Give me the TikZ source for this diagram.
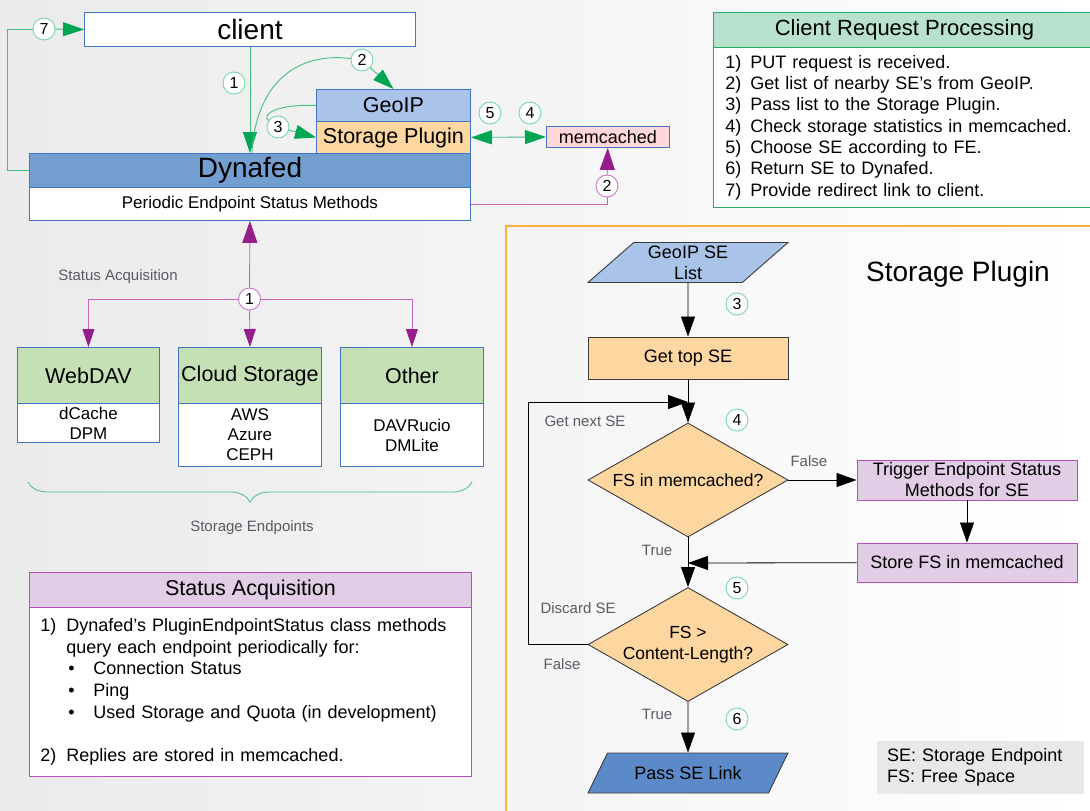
\documentclass[tikz,border=0pt]{standalone}
\usepackage{fontspec}
\setmainfont{Liberation Sans}
\usepackage{xcolor}
\usepackage{tikz}
\usetikzlibrary{arrows.meta, shapes.geometric, decorations.pathreplacing}
\definecolor{kaderblauw}{RGB}{68,114,196}
\definecolor{dynblauw}{RGB}{114,159,207}
\definecolor{geoblauw}{RGB}{170,196,233}
\definecolor{linkblauw}{RGB}{92,138,200}
\definecolor{oranjevak}{RGB}{253,214,160}
\definecolor{rozevak}{RGB}{255,215,215}
\definecolor{groenvak}{RGB}{197,224,180}
\definecolor{paarsvak}{RGB}{225,205,230}
\definecolor{paarsrand}{RGB}{180,80,180}
\definecolor{muntvak}{RGB}{184,226,206}
\definecolor{randgroen}{RGB}{40,170,100}
\definecolor{lijngroen}{RGB}{70,190,130}
\definecolor{pijlgroen}{RGB}{0,166,81}
\definecolor{cirkelgroen}{RGB}{120,215,170}
\definecolor{lijnpaars}{RGB}{200,100,190}
\definecolor{pijlpaars}{RGB}{150,30,140}
\definecolor{cirkelpaars}{RGB}{200,120,200}
\definecolor{oranjerand}{RGB}{250,175,60}
\definecolor{donkergrijs}{RGB}{60,60,60}
\definecolor{legendagrijs}{RGB}{232,232,232}
\definecolor{labelgrijs}{RGB}{90,90,100}
\newcommand{\fsz}[2]{\fontsize{#1}{#2}\selectfont}
\newcommand{\nrvak}[2]{\makebox[#1][l]{#2}}

\begin{document}
\begin{tikzpicture}[x=1pt, y=-1pt,
  vak/.style={draw=kaderblauw, line width=0.9pt, inner sep=0pt, anchor=north west, align=center},
  nummer/.style={circle, draw=cirkelgroen, fill=white, line width=0.9pt, minimum size=22pt, inner sep=0pt, font=\fsz{16}{16}},
  groenlijn/.style={draw=lijngroen, line width=0.9pt},
  groenpijl/.style={groenlijn, -{Triangle[length=21pt, width=14pt, color=pijlgroen]}},
  paarslijn/.style={draw=lijnpaars, line width=0.9pt},
  paarspijl/.style={paarslijn, -{Triangle[length=22pt, width=15pt, color=pijlpaars]}},
  paarsklein/.style={paarslijn, -{Triangle[length=18pt, width=12pt, color=pijlpaars]}},
  zwartpijl/.style={draw=black, line width=0.8pt, -{Triangle[length=20pt, width=14pt]}},
  stap/.style={draw=donkergrijs, line width=0.9pt, fill=oranjevak, minimum width=200, inner xsep=4pt, inner ysep=1pt, font=\fsz{18}{21}, align=center},
  keuze/.style={diamond, aspect=1.75, draw=donkergrijs, line width=0.9pt, fill=oranjevak, minimum width=200, minimum height=114, inner sep=0pt, font=\fsz{17.5}{21}, align=center},
  invoer/.style={trapezium, trapezium left angle=38, trapezium right angle=142, trapezium stretches body, minimum width=200, minimum height=40, inner sep=1pt, draw=donkergrijs, line width=0.9pt, font=\fsz{18}{21}, align=center},
  grijslabel/.style={text=labelgrijs, font=\fsz{15}{18}}
]
  \useasboundingbox (0,0) rectangle (1090,811);
  % achtergrond
  \shade[left color=black!8, right color=white] (0,0) rectangle (1090,811);

  % Client, Dynafed en plugin
  \node[vak, fill=white, minimum width=331, minimum height=34, font=\fsz{28}{30}] (client) at (84,12) {client};
  \node[vak, fill=dynblauw, minimum width=441, minimum height=34, font=\fsz{28}{30}] (dynafed) at (29,153) {Dynafed};
  \node[vak, fill=white, minimum width=441, minimum height=33, font=\fsz{17}{20}] (periodiek) at (29,187) {Periodic Endpoint Status Methods};
  \node[vak, fill=geoblauw, minimum width=154, minimum height=32, font=\fsz{21.5}{24}] (geoip) at (316,89) {GeoIP};
  \node[vak, fill=oranjevak, minimum width=154, minimum height=32, font=\fsz{21.5}{24}] (plugin) at (316,121) {Storage Plugin};
  \node[vak, fill=rozevak, minimum width=123, minimum height=21, font=\fsz{18}{20}] (memcached) at (546,126) {memcached};

  % Stappen
  \node[nummer] (n7) at (44,29) {7};
  \node[nummer] (n1) at (234,83) {1};
  \node[nummer] (n2) at (362,60) {2};
  \node[nummer] (n3) at (278,127) {3};
  \node[nummer] (n5) at (490,113) {5};
  \node[nummer] (n4) at (530,113) {4};
  \node[nummer, draw=cirkelpaars] (m2) at (607,186) {2};

  \draw[groenpijl] (client.south) -- (dynafed.north);
  \draw[groenlijn] (dynafed.west) -- ++(-22,0) |- (n7);
  \draw[groenpijl] (n7) -- (client.west);
  \draw[groenlijn] ([xshift=2pt]dynafed.north) .. controls (256,80) and (300,52) .. (n2);
  \draw[groenpijl] (n2) -- (geoip.north);
  \draw[groenlijn] (geoip.west) .. controls (272,104) and (262,116) .. (n3);
  \draw[groenpijl] (n3) -- (plugin.west);
  \draw[groenlijn, {Triangle[length=21pt, width=14pt, color=pijlgroen]}-{Triangle[length=21pt, width=14pt, color=pijlgroen]}] (plugin.east) -- (memcached.west);
  \draw[paarslijn] (periodiek.east) -| (m2);
  \draw[paarspijl] (m2) -- (memcached);

  % Eindpunten
  \node[vak, fill=groenvak, minimum width=142, minimum height=56, font=\fsz{21.5}{24}] (webdav) at (17,347) {WebDAV};
  \node[vak, fill=white, minimum width=142, minimum height=39, font=\fsz{17}{20}] (webdavlijst) at (17,403) {dCache\\DPM};
  \node[vak, fill=groenvak, minimum width=143, minimum height=56, font=\fsz{21.5}{24}] (cloud) at (178,347) {Cloud Storage};
  \node[vak, fill=white, minimum width=143, minimum height=63, font=\fsz{17}{20}] (cloudlijst) at (178,403) {AWS\\Azure\\CEPH};
  \node[vak, fill=groenvak, minimum width=143, minimum height=56, font=\fsz{21.5}{24}] (overig) at (340,347) {Other};
  \node[vak, fill=white, minimum width=143, minimum height=63, font=\fsz{17}{20}] (overiglijst) at (340,403) {DAVRucio\\DMLite};

  \node[nummer, draw=cirkelpaars] (s1) at (249.5,299) {1};
  \draw[paarspijl] (s1) -- (periodiek.south);
  \draw[paarsklein] (s1) -| (webdav.north);
  \draw[paarsklein] (s1) -- (cloud.north);
  \draw[paarsklein] (s1) -| (overig.north);
  \node[grijslabel] (statuslabel) at (118,277) {Status Acquisition};
  \draw[decorate, decoration={brace, mirror, amplitude=20pt}, draw=lijngroen, line width=0.8pt] (28,482) -- (472,482);
  \node[grijslabel] (eindpunten) at (252,528) {Storage Endpoints};

  % Status Acquisition
  \node[vak, draw=paarsrand, fill=paarsvak, minimum width=442, minimum height=35, font=\fsz{21.5}{24}] (statuskop) at (29,572) {Status Acquisition};
  \node[vak, draw=paarsrand, fill=white, text width=420, inner xsep=11pt, minimum height=169, align=left, font=\fsz{18}{21.7}] (statustekst) at (29,607) {%
    \nrvak{26pt}{1)}Dynafed's PluginEndpointStatus class methods\\
    \hspace*{26pt}query each endpoint periodically for:\\
    \hspace*{28pt}\nrvak{25pt}{\textbullet}Connection Status\\
    \hspace*{28pt}\nrvak{25pt}{\textbullet}Ping\\
    \hspace*{28pt}\nrvak{25pt}{\textbullet}Used Storage and Quota (in development)\\[21.7pt]
    \nrvak{26pt}{2)}Replies are stored in memcached.};

  % Client Request Processing
  \node[vak, draw=randgroen, fill=muntvak, minimum width=382, minimum height=35, font=\fsz{22}{24}] (crpkop) at (713,12) {Client Request Processing};
  \node[vak, draw=randgroen, fill=white, text width=358, inner xsep=12pt, minimum height=160, align=left, font=\fsz{18}{21.3}] (crptekst) at (713,47) {%
    \nrvak{25pt}{1)}PUT request is received.\\
    \nrvak{25pt}{2)}Get list of nearby SE's from GeoIP.\\
    \nrvak{25pt}{3)}Pass list to the Storage Plugin.\\
    \nrvak{25pt}{4)}Check storage statistics in memcached.\\
    \nrvak{25pt}{5)}Choose SE according to FE.\\
    \nrvak{25pt}{6)}Return SE to Dynafed.\\
    \nrvak{25pt}{7)}Provide redirect link to client.};

  % Storage Plugin stroomschema
  \draw[draw=oranjerand, line width=1.5pt] (506,815) -- (506,226) -- (1095,226);
  \node[font=\fsz{28}{30}] (sptitel) at (958,274) {Storage Plugin};

  \node[invoer, fill=geoblauw] (selijst) at (688,262.5) {GeoIP SE\\List};
  \node[stap, minimum height=42] (topse) at (688,358) {Get top SE};
  \node[keuze] (vraag1) at (688,480) {FS in memcached?};
  \node[stap, fill=paarsvak, draw=paarsrand, minimum width=220, minimum height=40] (trigger) at (967,480) {Trigger Endpoint Status\\Methods for SE};
  \node[stap, fill=paarsvak, draw=paarsrand, minimum width=220, minimum height=39] (opslaan) at (967,562.5) {Store FS in memcached};
  \node[keuze] (vraag2) at (688,644.5) {FS >\\Content-Length?};
  \node[invoer, fill=linkblauw] (selink) at (688,773) {Pass SE Link};
  \coordinate (lus) at (688,402);
  \coordinate (terug) at (688,563);

  \node[nummer] (f3) at (737,304) {3};
  \node[nummer] (f4) at (737,420) {4};
  \node[nummer] (f5) at (737,588) {5};
  \node[nummer] (f6) at (737,719) {6};

  \draw[zwartpijl] (selijst) -- (topse);
  \draw[zwartpijl] (topse) -- (vraag1);
  \draw[zwartpijl] (vraag1) -- node[grijslabel, above=10pt, pos=0.3] (onwaar1) {False} (trigger);
  \draw[zwartpijl] (trigger) -- (opslaan);
  \draw[zwartpijl] (opslaan) -- (terug);
  \draw[zwartpijl] (vraag1) -- node[grijslabel, left=12pt, pos=0.27] (waar1) {True} (vraag2);
  \draw[zwartpijl] (vraag2) -- node[grijslabel, left=12pt, pos=0.25] (waar2) {True} (selink);
  \draw[zwartpijl] (vraag2.west) -| (528,402) -- (lus);
  \node[grijslabel, anchor=west] (volgende) at (541,421) {Get next SE};
  \node[grijslabel, anchor=west] (verwerp) at (537,608) {Discard SE};
  \node[grijslabel] (onwaar2) at (562,664) {False};

  % Legenda
  \node[anchor=north west, fill=legendagrijs, minimum width=207, minimum height=53, text width=187, inner xsep=10pt, align=left, font=\fsz{18}{21}] (legenda) at (877,741) {SE: Storage Endpoint\\FS: Free Space};
\end{tikzpicture}
\end{document}
